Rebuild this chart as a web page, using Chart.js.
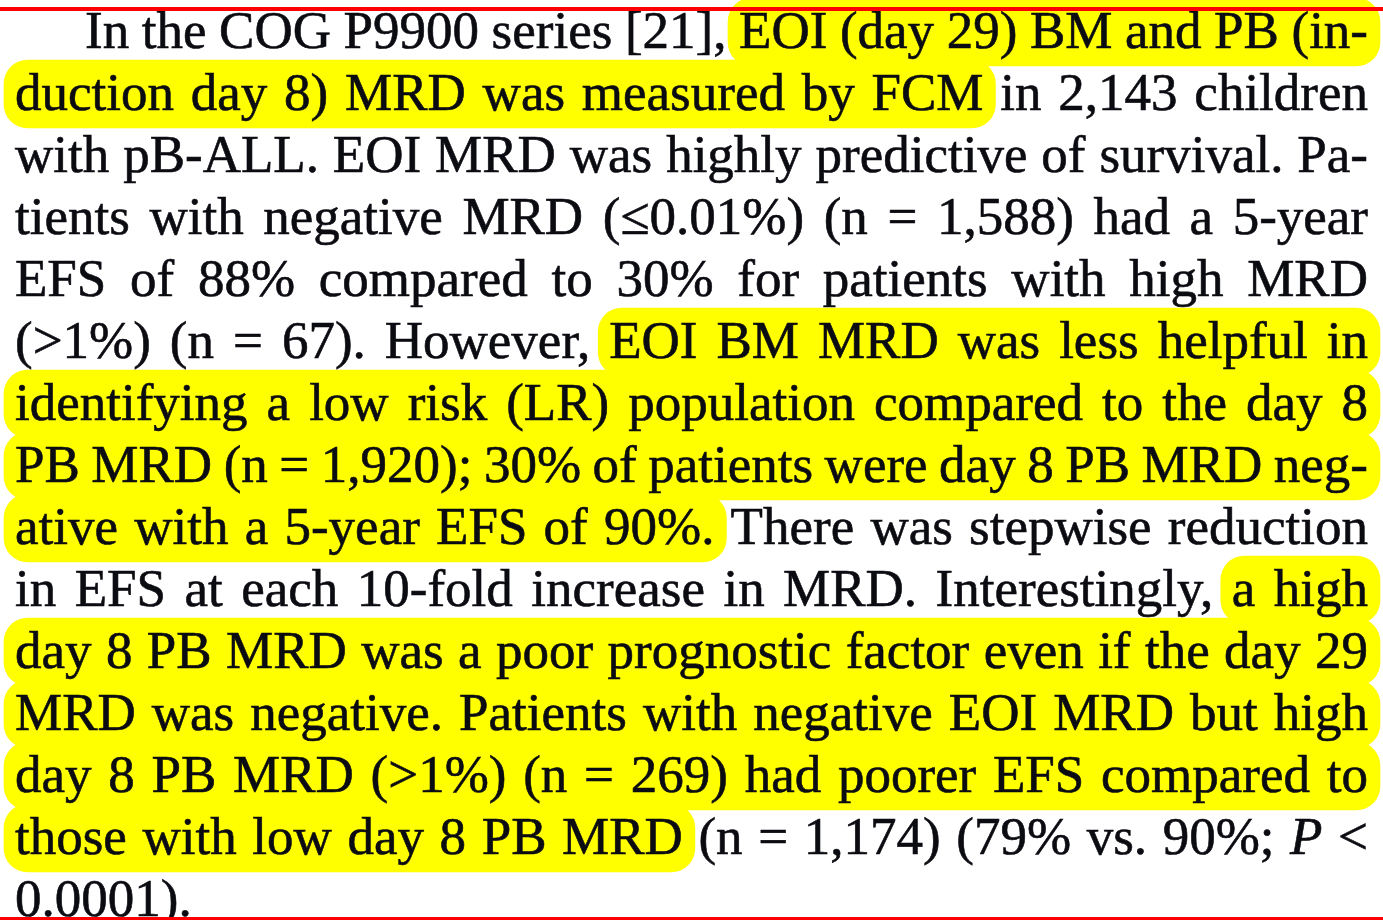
<!DOCTYPE html>
<html>
<head>
<meta charset="utf-8">
<script src="https://cdn.jsdelivr.net/npm/chart.js@4.4.1/dist/chart.umd.min.js"></script>
<style>
    html, body { margin: 0; padding: 0; background: #fff; overflow: hidden; }
    #canvasParent { width: 1383px; height: 920px; }
</style>
</head>
<body>
<div id="canvasParent"><canvas id="display" width="1383" height="920"></canvas></div>
<script>
// text of the page, one entry per printed line
const lineTexts = [
    "In the COG P9900 series [21], EOI (day 29) BM and PB (in-",
    "duction day 8) MRD was measured by FCM in 2,143 children",
    "with pB-ALL. EOI MRD was highly predictive of survival. Pa-",
    "tients with negative MRD (\u22640.01%) (n = 1,588) had a 5-year",
    "EFS of 88% compared to 30% for patients with high MRD",
    "(>1%) (n = 67). However, EOI BM MRD was less helpful in",
    "identifying a low risk (LR) population compared to the day 8",
    "PB MRD (n = 1,920); 30% of patients were day 8 PB MRD neg-",
    "ative with a 5-year EFS of 90%. There was stepwise reduction",
    "in EFS at each 10-fold increase in MRD. Interestingly, a high",
    "day 8 PB MRD was a poor prognostic factor even if the day 29",
    "MRD was negative. Patients with negative EOI MRD but high",
    "day 8 PB MRD (>1%) (n = 269) had poorer EFS compared to",
    "those with low day 8 PB MRD (n = 1,174) (79% vs. 90%; P <",
    "0.0001)."
];
const lineNumbers = [1, 2, 3, 4, 5, 6, 7, 8, 9, 10, 11, 12, 13, 14, 15];
// highlighted words: first word index (null = no highlight), last word index (null = to line end)
const markFrom = [6, 0, null, null, null, 5, 0, 0, 0, 9, 0, 0, 0, 0, null];
const markTo = [null, 7, null, null, null, null, null, null, 6, null, null, null, null, 6, null];
const italicWords = ["P"];

const FONT_SIZE = 53;
const LEFT = 15, RIGHT = 1368, INDENT = 70;
const LINE_GAP = 62;

let fontFor = function (italic) {
    return (italic ? "italic " : "") + FONT_SIZE + 'px "Liberation Serif", "Times New Roman", serif';
};

let measureCtx = document.createElement("canvas").getContext("2d");

let layoutLine = function (text, idx) {
    const words = text.split(" ").map((t) => {
        const italic = italicWords.indexOf(t) !== -1;
        measureCtx.font = fontFor(italic);
        return {t: t, italic: italic, w: measureCtx.measureText(t).width, x: 0};
    });
    const start = idx === 0 ? LEFT + INDENT : LEFT;
    const total = words.reduce((s, w) => s + w.w, 0);
    let gap = FONT_SIZE * 0.25;
    let squeeze = 1;
    if (idx !== lineTexts.length - 1 && words.length > 1) {
        gap = (RIGHT - start - total) / (words.length - 1);
        if (gap < 6) {
            gap = 6;
            squeeze = (RIGHT - start - gap * (words.length - 1)) / total;
        }
    }
    let x = start;
    for (const w of words) {
        w.w *= squeeze;
        w.x = x;
        x += w.w + gap;
    }
    return {words: words, squeeze: squeeze};
};

const layouts = lineTexts.map(layoutLine);

const bands = [];
lineNumbers.forEach((n, i) => {
    if (markFrom[i] === null) {
        return;
    }
    const words = layouts[i].words;
    const first = words[markFrom[i]];
    const last = words[markTo[i] === null ? words.length - 1 : markTo[i]];
    bands.push({y: n, x: [first.x - 11, last.x + last.w + 12]});
});

const textPlugin = {
    id: "pageText",
    afterDatasetsDraw(chart) {
        const ctx = chart.ctx;
        const xs = chart.scales.x, ys = chart.scales.y;
        ctx.save();
        ctx.fillStyle = "#0b0b12";
        ctx.strokeStyle = "#0b0b12";
        ctx.lineWidth = 0.6;
        ctx.textBaseline = "alphabetic";
        ctx.textAlign = "left";
        lineNumbers.forEach((n, i) => {
            const base = ys.getPixelForValue(n) + 16;
            for (const w of layouts[i].words) {
                ctx.font = fontFor(w.italic);
                ctx.save();
                ctx.translate(xs.getPixelForValue(w.x), base);
                ctx.scale(layouts[i].squeeze, 1);
                ctx.fillText(w.t, 0, 0);
                ctx.strokeText(w.t, 0, 0);
                ctx.restore();
            }
        });
        ctx.restore();
    },
    afterDraw(chart) {
        const ctx = chart.ctx;
        ctx.save();
        ctx.fillStyle = "#ff0000";
        ctx.fillRect(0, 7, chart.width, 4);
        ctx.fillRect(0, 917, chart.width, 3);
        ctx.restore();
    }
};

new Chart(document.getElementById("display"), {
    type: "bar",
    data: {
        datasets: [{
            data: bands,
            backgroundColor: "#ffff00",
            borderWidth: 0,
            borderRadius: 24,
            borderSkipped: false,
            barThickness: 68
        }]
    },
    options: {
        indexAxis: "y",
        responsive: false,
        animation: false,
        devicePixelRatio: 1,
        layout: {padding: 0},
        plugins: {legend: {display: false}, tooltip: {enabled: false}},
        scales: {
            x: {type: "linear", min: 0, max: 1383, offset: false, display: false},
            y: {type: "linear", min: 30 / LINE_GAP, max: 30 / LINE_GAP + 920 / LINE_GAP, offset: false, reverse: true, display: false}
        }
    },
    plugins: [textPlugin]
});
</script>
</body>
</html>
